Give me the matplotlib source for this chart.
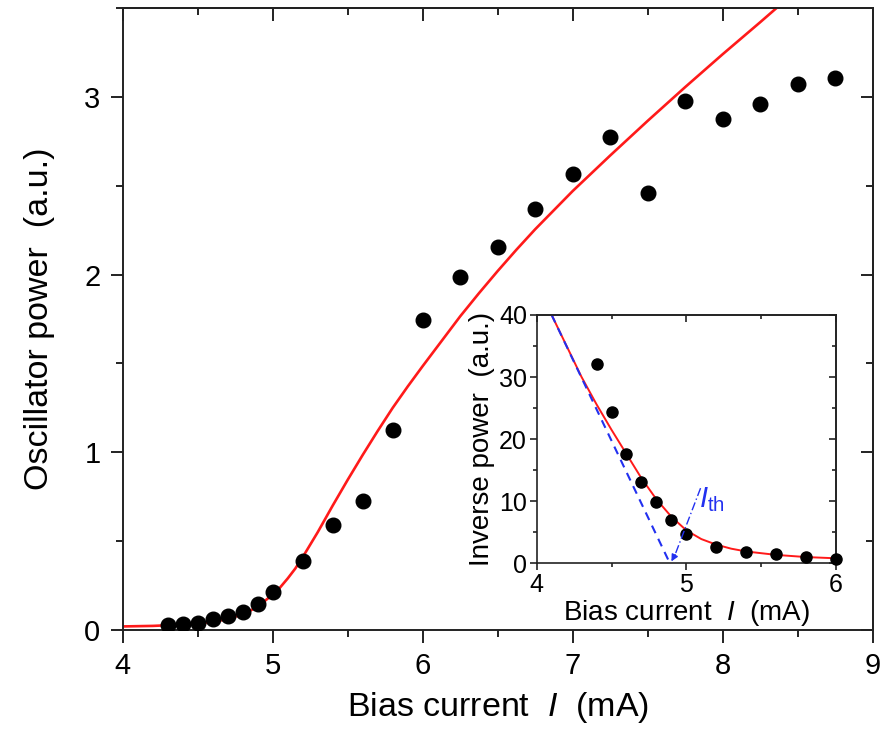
import matplotlib
matplotlib.use("Agg")
import matplotlib.pyplot as plt
from matplotlib.ticker import MultipleLocator, NullFormatter

plt.rcParams["font.family"] = ["Liberation Sans", "DejaVu Sans"]
plt.rcParams["mathtext.fontset"] = "custom"
plt.rcParams["mathtext.rm"] = "Liberation Sans"
plt.rcParams["mathtext.it"] = "Liberation Sans:italic"

# ── main panel data ───────────────────────────────────────────────────────────
main_current = [4.3, 4.4, 4.5, 4.6, 4.7, 4.8, 4.9, 5.0, 5.2, 5.4, 5.6, 5.8,
                6.0, 6.25, 6.5, 6.75, 7.0, 7.25, 7.5, 7.75, 8.0, 8.25, 8.5, 8.75]
main_power = [0.026, 0.034, 0.041, 0.060, 0.079, 0.103, 0.145, 0.216, 0.389,
              0.588, 0.727, 1.127, 1.747, 1.984, 2.153, 2.367, 2.565, 2.773,
              2.461, 2.978, 2.875, 2.959, 3.070, 3.104]

fit_current = [4.0, 4.2, 4.4, 4.6, 4.7, 4.8, 4.9, 5.0, 5.05, 5.1, 5.15, 5.2,
               5.3, 5.4, 5.5, 5.6, 5.7, 5.8, 5.9, 6.0, 6.125, 6.25, 6.375,
               6.5, 6.625, 6.75, 7.0, 7.25, 7.5, 7.75, 8.0, 8.25, 8.4]
fit_power = [0.020, 0.023, 0.030, 0.045, 0.062, 0.088, 0.130, 0.200, 0.240,
             0.290, 0.345, 0.410, 0.550, 0.700, 0.845, 0.985, 1.120, 1.250,
             1.370, 1.485, 1.625, 1.765, 1.895, 2.020, 2.140, 2.255, 2.470,
             2.670, 2.865, 3.055, 3.240, 3.420, 3.530]

# ── inset data ────────────────────────────────────────────────────────────────
inset_current = [4.4, 4.5, 4.6, 4.7, 4.8, 4.9, 5.0, 5.2, 5.4, 5.6, 5.8, 6.0]
inset_inverse = [32.1, 24.4, 17.6, 13.1, 9.8, 7.0, 4.7, 2.7, 1.8, 1.45, 1.0, 0.75]

inset_fit_current = [4.1, 4.2, 4.3, 4.4, 4.5, 4.6, 4.7, 4.8, 4.9, 5.0, 5.1,
                     5.2, 5.3, 5.4, 5.6, 5.8, 6.0]
inset_fit_inverse = [40.0, 35.0, 30.0, 25.6, 21.5, 17.6, 13.7, 10.3, 7.5, 5.3,
                     3.9, 3.0, 2.35, 1.9, 1.35, 1.0, 0.8]

linear_current = [4.1, 4.89]
linear_inverse = [40.0, 0.0]

ith_line_current = [5.095, 4.925]
ith_line_inverse = [12.1, 1.4]
ith_tip = (4.90, 0.3)

C_FIT = "#FF1A1A"
C_BLUE = "#2230F0"
C_SPINE = "#222222"


def _mirror_ticks(ax, xmaj, xmin, ymaj, ymin, lmaj, lmin, width):
    """Inward ticks on top and right, without labels."""
    top = ax.secondary_xaxis("top")
    top.xaxis.set_major_locator(MultipleLocator(xmaj))
    top.xaxis.set_minor_locator(MultipleLocator(xmin))
    top.xaxis.set_major_formatter(NullFormatter())
    top.tick_params(which="major", direction="in", length=lmaj, width=width, color=C_SPINE)
    top.tick_params(which="minor", direction="in", length=lmin, width=width, color=C_SPINE)
    top.spines["top"].set_linewidth(width)
    top.spines["top"].set_color(C_SPINE)

    right = ax.secondary_yaxis("right")
    right.yaxis.set_major_locator(MultipleLocator(ymaj))
    right.yaxis.set_minor_locator(MultipleLocator(ymin))
    right.yaxis.set_major_formatter(NullFormatter())
    right.tick_params(which="major", direction="in", length=lmaj, width=width, color=C_SPINE)
    right.tick_params(which="minor", direction="in", length=lmin, width=width, color=C_SPINE)
    right.spines["right"].set_linewidth(width)
    right.spines["right"].set_color(C_SPINE)


fig = plt.figure(figsize=(8.84, 7.34), dpi=100)

# ── main axes ─────────────────────────────────────────────────────────────────
ax = fig.add_axes([0.1388, 0.1417, 0.8484, 0.8474])
ax.plot(fit_current, fit_power, color=C_FIT, linewidth=1.9, zorder=2)
ax.plot(main_current, main_power, "o", color="black", markersize=10.5, zorder=3)
ax.set_xlim(4, 9)
ax.set_ylim(0, 3.5)
ax.xaxis.set_major_locator(MultipleLocator(1))
ax.xaxis.set_minor_locator(MultipleLocator(0.5))
ax.yaxis.set_major_locator(MultipleLocator(1))
ax.yaxis.set_minor_locator(MultipleLocator(0.5))
ax.tick_params(which="major", direction="out", length=9, width=1.4,
               labelsize=21, pad=7, color=C_SPINE)
ax.tick_params(which="minor", direction="out", length=5, width=1.4, color=C_SPINE)
for sp in ax.spines.values():
    sp.set_linewidth(1.4)
    sp.set_color(C_SPINE)
_mirror_ticks(ax, 1, 0.5, 1, 0.5, 9, 5, 1.4)
ax.set_xlabel("Bias current  $I$  (mA)", fontsize=24.5, labelpad=7)
ax.set_ylabel("Oscillator power  (a.u.)", fontsize=24.5, labelpad=21)

# ── inset axes ────────────────────────────────────────────────────────────────
ax_in = fig.add_axes([0.6071, 0.2326, 0.3386, 0.3383])
ax_in.set_facecolor("white")
ax_in.plot(inset_fit_current, inset_fit_inverse, color=C_FIT, linewidth=1.4, zorder=2)
ax_in.plot(linear_current, linear_inverse, color=C_BLUE, linewidth=1.5,
           linestyle=(0, (4, 3)), zorder=2.5)
ax_in.plot(inset_current, inset_inverse, "o", color="black", markersize=8, zorder=3,
           clip_on=False)
ax_in.plot(ith_line_current, ith_line_inverse, color=C_BLUE, linewidth=1.0,
           linestyle=(0, (6, 2, 1, 2)), zorder=4)
ax_in.annotate("", xy=ith_tip, xytext=(ith_line_current[1], ith_line_inverse[1]),
               arrowprops=dict(arrowstyle="-|>", color=C_BLUE, lw=1.0,
                               mutation_scale=10, shrinkA=0, shrinkB=0))
ax_in.text(5.085, 9.0, r"$I_{\mathrm{th}}$", color=C_BLUE, fontsize=21,
           ha="left", va="baseline")
ax_in.set_xlim(4, 6)
ax_in.set_ylim(0, 40)
ax_in.xaxis.set_major_locator(MultipleLocator(1))
ax_in.xaxis.set_minor_locator(MultipleLocator(0.5))
ax_in.yaxis.set_major_locator(MultipleLocator(10))
ax_in.yaxis.set_minor_locator(MultipleLocator(5))
ax_in.tick_params(which="major", direction="out", length=5, width=1.2,
                  labelsize=18, pad=2, color=C_SPINE)
ax_in.tick_params(which="minor", direction="out", length=3, width=1.2, color=C_SPINE)
for sp in ax_in.spines.values():
    sp.set_linewidth(1.2)
    sp.set_color(C_SPINE)
_mirror_ticks(ax_in, 1, 0.5, 10, 5, 5, 3, 1.2)
ax_in.set_xlabel("Bias current  $I$  (mA)", fontsize=20, labelpad=1)
ax_in.set_ylabel("Inverse power  (a.u.)", fontsize=20, labelpad=3)

fig.savefig("out.png", dpi=100)
